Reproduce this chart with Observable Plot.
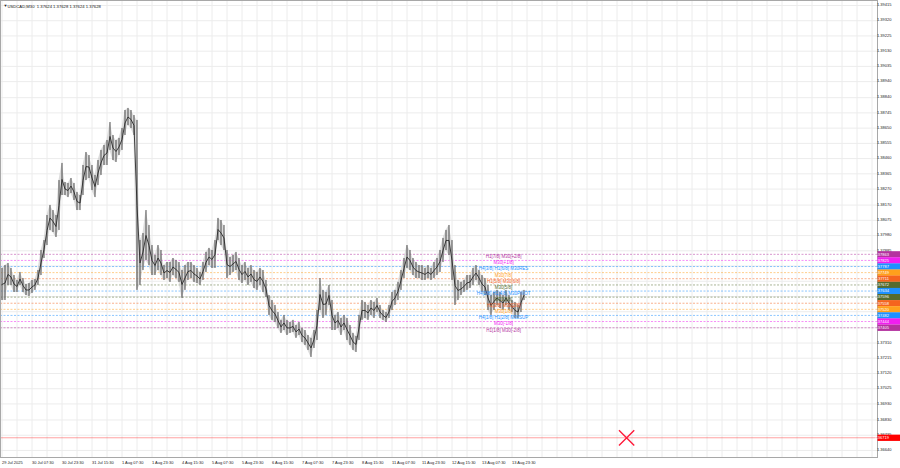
<!DOCTYPE html>
<html><head><meta charset="utf-8">
<script src="https://cdn.jsdelivr.net/npm/d3@7"></script>
<script src="https://cdn.jsdelivr.net/npm/@observablehq/plot@0.6"></script>
<style>html,body{margin:0;padding:0;background:#fff;overflow:hidden}</style>
</head><body><div id="chart"></div>
<script>
const titleText = "USDCAD,M30  1.37624 1.37628 1.37624 1.37628";
const timeLabels = ["29 Jul 2025","30 Jul 07:30","30 Jul 23:30","31 Jul 15:30","1 Aug 07:30","1 Aug 23:30","4 Aug 15:30","5 Aug 07:30","5 Aug 23:30","6 Aug 15:30","7 Aug 07:30","7 Aug 23:30","8 Aug 15:30","11 Aug 07:30","11 Aug 23:30","12 Aug 15:30","13 Aug 07:30","13 Aug 23:30"];
const priceTicks = [1.39415,1.39320,1.39225,1.39130,1.39035,1.38940,1.38840,1.38745,1.38650,1.38555,1.38460,1.38365,1.38270,1.38170,1.38075,1.37980,1.37885,1.37790,1.37695,1.37600,1.37505,1.37405,1.37310,1.37215,1.37120,1.37025,1.36930,1.36830,1.36735,1.36640];

const barHigh = [1.37775,1.37793,1.37806,1.37775,1.37731,1.37700,1.37750,1.37712,1.37675,1.37681,
1.37700,1.37706,1.37762,1.37887,1.37949,1.38105,1.38168,1.38136,1.38105,1.38323,
1.38430,1.38311,1.38305,1.38336,1.38305,1.38249,1.38230,1.38417,1.38498,1.38479,
1.38417,1.38355,1.38448,1.38511,1.38542,1.38573,1.38685,1.38604,1.38573,1.38586,
1.38648,1.38760,1.38773,1.38760,1.38729,1.38698,1.37949,1.37993,1.38136,1.38043,
1.37918,1.37856,1.37918,1.37887,1.37793,1.37812,1.37812,1.37837,1.37825,1.37812,
1.37762,1.37793,1.37812,1.37812,1.37793,1.37775,1.37750,1.37812,1.37875,1.37900,
1.37887,1.37949,1.38087,1.38074,1.38043,1.37887,1.37843,1.37856,1.37875,1.37837,
1.37793,1.37812,1.37775,1.37793,1.37762,1.37750,1.37775,1.37762,1.37700,1.37606,
1.37575,1.37544,1.37500,1.37451,1.37482,1.37451,1.37438,1.37451,1.37419,1.37438,
1.37401,1.37388,1.37357,1.37339,1.37388,1.37513,1.37712,1.37638,1.37625,1.37669,
1.37575,1.37482,1.37500,1.37463,1.37482,1.37463,1.37419,1.37370,1.37351,1.37482,
1.37575,1.37563,1.37544,1.37575,1.37563,1.37588,1.37544,1.37513,1.37500,1.37544,
1.37625,1.37638,1.37688,1.37762,1.37837,1.37918,1.37887,1.37837,1.37812,1.37793,
1.37793,1.37775,1.37793,1.37775,1.37812,1.37837,1.37887,1.37962,1.38012,1.38043,
1.37949,1.37793,1.37700,1.37688,1.37700,1.37731,1.37731,1.37775,1.37793,1.37762,
1.37731,1.37712,1.37669,1.37606,1.37625,1.37638,1.37625,1.37606,1.37638,1.37606,
1.37575,1.37563,1.37544,1.37625,1.37638];
const barLow = [1.37575,1.37575,1.37669,1.37669,1.37625,1.37625,1.37669,1.37625,1.37606,1.37600,
1.37619,1.37638,1.37669,1.37731,1.37837,1.37918,1.38012,1.37999,1.37968,1.38012,
1.38230,1.38230,1.38217,1.38242,1.38199,1.38136,1.38136,1.38230,1.38323,1.38336,
1.38261,1.38217,1.38292,1.38355,1.38417,1.38417,1.38511,1.38448,1.38436,1.38479,
1.38511,1.38604,1.38666,1.38648,1.38604,1.37638,1.37669,1.37762,1.37825,1.37793,
1.37731,1.37731,1.37762,1.37731,1.37700,1.37712,1.37688,1.37731,1.37712,1.37688,
1.37588,1.37638,1.37700,1.37712,1.37688,1.37681,1.37669,1.37700,1.37750,1.37793,
1.37775,1.37775,1.37949,1.37918,1.37887,1.37712,1.37731,1.37750,1.37762,1.37700,
1.37681,1.37700,1.37669,1.37688,1.37650,1.37638,1.37669,1.37625,1.37594,1.37482,
1.37451,1.37438,1.37401,1.37370,1.37388,1.37357,1.37370,1.37376,1.37339,1.37357,
1.37313,1.37295,1.37264,1.37220,1.37276,1.37326,1.37513,1.37463,1.37482,1.37544,
1.37388,1.37388,1.37401,1.37357,1.37388,1.37326,1.37295,1.37264,1.37251,1.37326,
1.37451,1.37463,1.37451,1.37482,1.37463,1.37500,1.37463,1.37451,1.37438,1.37463,
1.37513,1.37544,1.37575,1.37638,1.37712,1.37775,1.37762,1.37731,1.37712,1.37712,
1.37700,1.37700,1.37712,1.37700,1.37712,1.37731,1.37750,1.37812,1.37887,1.37856,
1.37700,1.37544,1.37575,1.37606,1.37625,1.37638,1.37650,1.37669,1.37700,1.37669,
1.37625,1.37606,1.37513,1.37482,1.37513,1.37544,1.37525,1.37513,1.37544,1.37513,
1.37500,1.37463,1.37463,1.37500,1.37575];

const levelPrices = [1.37863,1.37825,1.37787,1.37749,1.37711,1.37672,1.37634,1.37596,1.37558,1.37520,1.37482,1.37444,1.37405];
const levelNames = ["H1[7/8] M30[+2/8]","M30[+1/8]","H4[3/8] H1[6/8] M30RES","M30[7/8]","H1[5/8] M30[6/8]","M30[5/8]","H4[2/8] H1[4/8] M30PIVOT","M30[3/8]","H1[3/8] M30[2/8]","M30[1/8]","H4[1/8] H1[2/8] M30SUP","M30[-1/8]","H1[1/8] M30[-2/8]"];
const levelColors = ["#b4329f","#f01ef0","#1e90ff","#ffa01c","#f5641e","#556b2f","#1e90ff","#556b2f","#f5641e","#ffa01c","#1e90ff","#f01ef0","#b4329f"];
const levelLabelSlot = 16.72;
const redPrice = 1.36719;
const redMarkSlot = 20.82;

const bars = barHigh.map((h,i)=>({s:i*0.1, hi:h, lo:barLow[i]}));
const levels = levelPrices.map((p,i)=>({price:p, name:levelNames[i], color:levelColors[i]}));
const timeTicks = timeLabels.map((t,i)=>({s:i, t}));
const gridSlots = d3.range(0, 29.2, 0.5);
const boxTop = d3.max(levelPrices) + 0.0002, boxBottom = d3.min(levelPrices) - 0.0002;
const shownTicks = priceTicks.filter(p => p > boxTop || p < boxBottom);
const tickDy = p => (Math.abs(p - redPrice) < 0.0002) ? -4.6 : (p > boxTop && p - boxTop < 0.00015) ? -2.2 : 1.5;

const boxSym = {draw(ctx){ ctx.rect(-11.5,-3.15,23,6.3); }};
const font = "Liberation Sans, Arial, sans-serif";

const plot = Plot.plot({
  width:900, height:468,
  marginTop:0, marginLeft:0, marginRight:23, marginBottom:11,
  x:{domain:[-0.05,29.183], axis:null},
  y:{domain:[1.36596,1.39446], axis:null},
  color:{type:"identity"},
  style:{fontFamily:font, background:"#fff", color:"#111"},
  marks:[
    Plot.ruleY(priceTicks, {stroke:"#ececec"}),
    Plot.ruleX(gridSlots, {stroke:"#ececec"}),
    Plot.ruleY(levels, {y:"price", stroke:"color", strokeOpacity:0.5, strokeDasharray:"2,1.5"}),
    Plot.ruleY([redPrice], {stroke:"#ff3030", strokeOpacity:0.45}),
    Plot.areaY(bars, {x:"s", y1:"lo", y2:"hi", fill:"#c4c4c4", fillOpacity:0.6}),
    Plot.ruleX(bars, {x:"s", y1:"lo", y2:"hi", stroke:"#3a3a3a", strokeWidth:0.9}),
    Plot.lineY(bars, {x:"s", y:d=>(d.hi+d.lo)/2, stroke:"#2a2a2a", strokeWidth:0.9}),
    Plot.text(levels, {x:()=>levelLabelSlot, y:"price", text:"name", fill:"color", fontSize:4.5, dy:2.5}),
    Plot.dot([redPrice], {x:()=>redMarkSlot, y:d=>d, symbol:"times", r:7, stroke:"#ff1a3a", strokeWidth:1.4}),
    Plot.frame({stroke:"#a8a8a8"}),
    Plot.text(shownTicks, {y:d=>d, frameAnchor:"right", dx:3, dy:tickDy, textAnchor:"start", text:d=>d.toFixed(5), fontSize:4, fill:"#222"}),
    Plot.dot(levels, {y:"price", frameAnchor:"right", dx:11.5, symbol:boxSym, fill:"color", stroke:null}),
    Plot.text(levels, {y:"price", frameAnchor:"right", dx:11.5, text:d=>d.price.toFixed(5), fontSize:4, fill:"#fff"}),
    Plot.dot([redPrice], {y:d=>d, frameAnchor:"right", dx:11.5, symbol:boxSym, fill:"#ff0000", stroke:null}),
    Plot.text([redPrice], {y:d=>d, frameAnchor:"right", dx:11.5, dy:0.4, text:d=>d.toFixed(5), fontSize:4, fill:"#fff"}),
    Plot.text(timeTicks, {x:"s", text:"t", frameAnchor:"bottom", dy:6, textAnchor:"start", fontSize:4, fill:"#222"}),
    Plot.text(["\u25BC"], {frameAnchor:"top-left", dx:3, dy:4, fontSize:4, fill:"#222"}),
    Plot.text([titleText], {frameAnchor:"top-left", dx:7, dy:4.5, textAnchor:"start", fontSize:4.2, fill:"#111"})
  ]
});
document.getElementById("chart").appendChild(plot);
</script>
</body></html>
